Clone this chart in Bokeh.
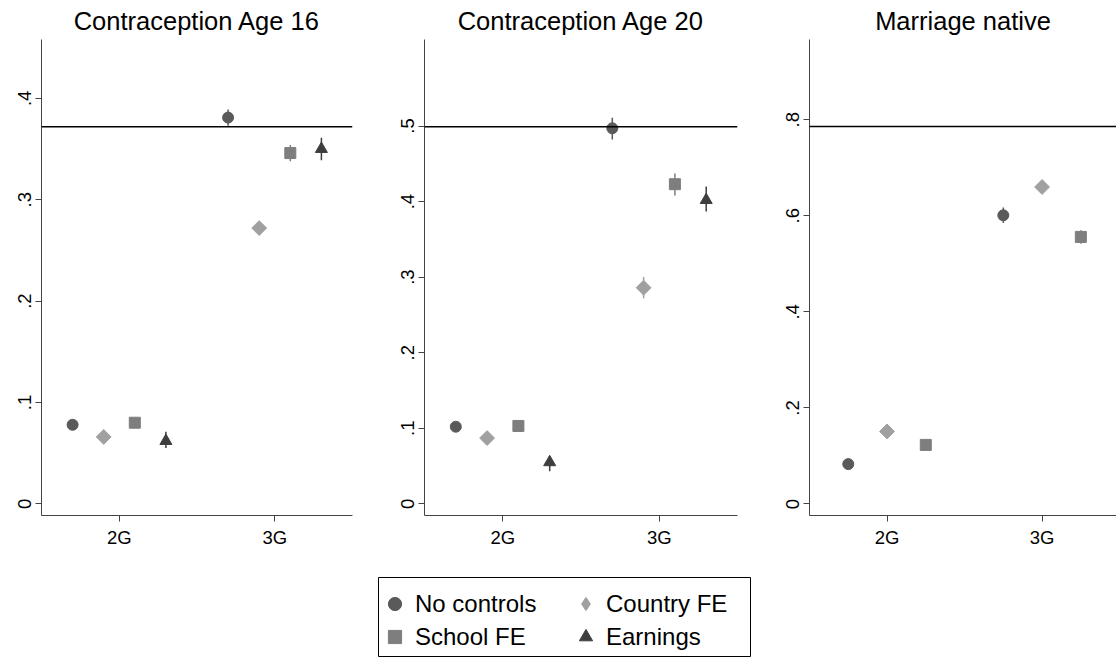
from math import pi
from bokeh.plotting import figure
from bokeh.models import Span, FixedTicker, Legend, LegendItem, Range1d, Spacer
from bokeh.layouts import row, column
from bokeh.embed import file_html
from bokeh.resources import INLINE

# ---------------- data ----------------
groups = ["2G", "3G"]
series = ["No controls", "Country FE", "School FE", "Earnings"]

titles = ["Contraception Age 16", "Contraception Age 20", "Marriage native"]

# Contraception Age 16
c16_est_2G = [0.078, 0.066, 0.080, 0.062]
c16_lo_2G = [0.074, 0.062, 0.076, 0.055]
c16_hi_2G = [0.082, 0.070, 0.084, 0.071]
c16_est_3G = [0.381, 0.272, 0.346, 0.350]
c16_lo_3G = [0.373, 0.266, 0.338, 0.339]
c16_hi_3G = [0.389, 0.278, 0.354, 0.361]
c16_ref = 0.372

# Contraception Age 20
c20_est_2G = [0.102, 0.087, 0.103, 0.055]
c20_lo_2G = [0.097, 0.082, 0.097, 0.043]
c20_hi_2G = [0.107, 0.092, 0.109, 0.063]
c20_est_3G = [0.497, 0.286, 0.423, 0.402]
c20_lo_3G = [0.482, 0.272, 0.408, 0.387]
c20_hi_3G = [0.511, 0.300, 0.437, 0.420]
c20_ref = 0.499

# Marriage native (no Earnings series)
mn_est_2G = [0.083, 0.151, 0.123]
mn_lo_2G = [0.078, 0.146, 0.118]
mn_hi_2G = [0.088, 0.156, 0.128]
mn_est_3G = [0.601, 0.660, 0.556]
mn_lo_3G = [0.585, 0.652, 0.542]
mn_hi_3G = [0.617, 0.668, 0.570]
mn_ref = 0.786

y_ticks_c16 = [0, 0.1, 0.2, 0.3, 0.4]
y_ticks_c20 = [0, 0.1, 0.2, 0.3, 0.4, 0.5]
y_ticks_mn = [0, 0.2, 0.4, 0.6, 0.8]
y_labels_c16 = ["0", ".1", ".2", ".3", ".4"]
y_labels_c20 = ["0", ".1", ".2", ".3", ".4", ".5"]
y_labels_mn = ["0", ".2", ".4", ".6", ".8"]

# ---------------- styles ----------------
markers = ["circle", "square", "square", "triangle"]
legend_markers = ["circle", "diamond", "square", "triangle"]
angles = [0, pi / 4, 0, 0]
colors = ["#5a5a5a", "#a0a0a0", "#7e7e7e", "#3e3e3e"]
sizes = [11, 10.5, 11, 12]
FONT = "Liberation Sans"
AXIS_COLOR = "#444444"

panels = [
    dict(title=titles[0], est=[c16_est_2G, c16_est_3G], lo=[c16_lo_2G, c16_lo_3G],
         hi=[c16_hi_2G, c16_hi_3G], ref=c16_ref, ticks=y_ticks_c16, labels=y_labels_c16,
         yr=(-0.0115, 0.458), xr=(0.5, 2.5), width=380, left=41, right=28, spacing=0.2),
    dict(title=titles[1], est=[c20_est_2G, c20_est_3G], lo=[c20_lo_2G, c20_lo_3G],
         hi=[c20_hi_2G, c20_hi_3G], ref=c20_ref, ticks=y_ticks_c20, labels=y_labels_c20,
         yr=(-0.0155, 0.6145), xr=(0.5, 2.5), width=380, left=44, right=23, spacing=0.2),
    dict(title=titles[2], est=[mn_est_2G, mn_est_3G], lo=[mn_lo_2G, mn_lo_3G],
         hi=[mn_hi_2G, mn_hi_3G], ref=mn_ref, ticks=y_ticks_mn, labels=y_labels_mn,
         yr=(-0.024, 0.967), xr=(0.5, 2.48), width=356, left=49, right=0, spacing=0.25),
]

figs = []
for pdata in panels:
    p = figure(width=pdata["width"], height=576, output_backend="svg", toolbar_location=None,
               x_range=Range1d(*pdata["xr"]), y_range=Range1d(*pdata["yr"]),
               min_border_left=pdata["left"], min_border_right=pdata["right"],
               min_border_top=38, min_border_bottom=61)
    p.title.text = pdata["title"]
    p.title.align = "center"
    p.title.text_font = FONT
    p.title.text_font_size = "25.5px"
    p.title.text_font_style = "normal"
    p.title.text_color = "black"
    p.title.standoff = 9
    p.outline_line_color = None
    p.grid.visible = False

    nser = len(pdata["est"][0])
    for i in range(nser):
        off = (i - (nser - 1) / 2) * pdata["spacing"]
        xs = [g + 1 + off for g in range(len(groups))]
        ys = [pdata["est"][g][i] for g in range(len(groups))]
        los = [pdata["lo"][g][i] for g in range(len(groups))]
        his = [pdata["hi"][g][i] for g in range(len(groups))]
        p.segment(x0=xs, y0=los, x1=xs, y1=his, line_color=colors[i], line_width=1.5)
        p.scatter(x=xs, y=ys, marker=markers[i], angle=angles[i], size=sizes[i],
                  fill_color=colors[i], line_color=colors[i])

    p.add_layout(Span(location=pdata["ref"], dimension="width", line_color="black", line_width=1.5))

    # x axis
    p.xaxis.ticker = FixedTicker(ticks=[g + 1 for g in range(len(groups))])
    p.xaxis.major_label_overrides = {g + 1: lab for g, lab in enumerate(groups)}
    # y axis
    p.yaxis.ticker = FixedTicker(ticks=pdata["ticks"])
    p.yaxis.major_label_overrides = {t: lab for t, lab in zip(pdata["ticks"], pdata["labels"])}
    p.yaxis.major_label_orientation = "vertical"
    for ax in (p.xaxis, p.yaxis):
        ax.axis_line_color = AXIS_COLOR
        ax.major_tick_line_color = AXIS_COLOR
        ax.major_tick_out = 6
        ax.major_tick_in = 0
        ax.minor_tick_line_color = None
        ax.major_label_text_font = FONT
        ax.major_label_text_font_size = "18.5px"
        ax.major_label_text_color = "black"
    p.xaxis.major_label_standoff = 5
    p.yaxis.major_label_standoff = 4
    figs.append(p)

# ---------------- legend ----------------
# Legend proxies: the panel-1 series drawn outside the visible range of this strip.
leg = figure(width=374, height=81, output_backend="svg", toolbar_location=None,
             x_axis_type=None, y_axis_type=None, min_border=1,
             x_range=Range1d(10, 11), y_range=Range1d(10, 11))
leg.grid.visible = False
leg.outline_line_color = "black"
leg.outline_line_width = 1
c16_est = [c16_est_2G, c16_est_3G]
rs = [leg.scatter(x=[g + 1 for g in range(len(groups))],
                  y=[c16_est[g][i] for g in range(len(groups))],
                  marker=legend_markers[i], size=sizes[i],
                  fill_color=colors[i], line_color=colors[i]) for i in range(len(series))]


def make_legend(idx, loc):
    return Legend(items=[LegendItem(label=series[i], renderers=[rs[i]]) for i in idx],
                  location=loc, orientation="vertical", glyph_width=33, glyph_height=33,
                  label_height=33, label_standoff=4, spacing=0, padding=0, margin=0,
                  label_text_font=FONT, label_text_font_size="24px", label_text_color="black",
                  border_line_alpha=0, background_fill_alpha=0)


leg.add_layout(make_legend([0, 2], (0, 3)))
leg.add_layout(make_legend([1, 3], (191, 3)))

layout = column(row(*figs), row(Spacer(width=377, height=81), leg))

open("out.html", "w").write(file_html(layout, INLINE))
